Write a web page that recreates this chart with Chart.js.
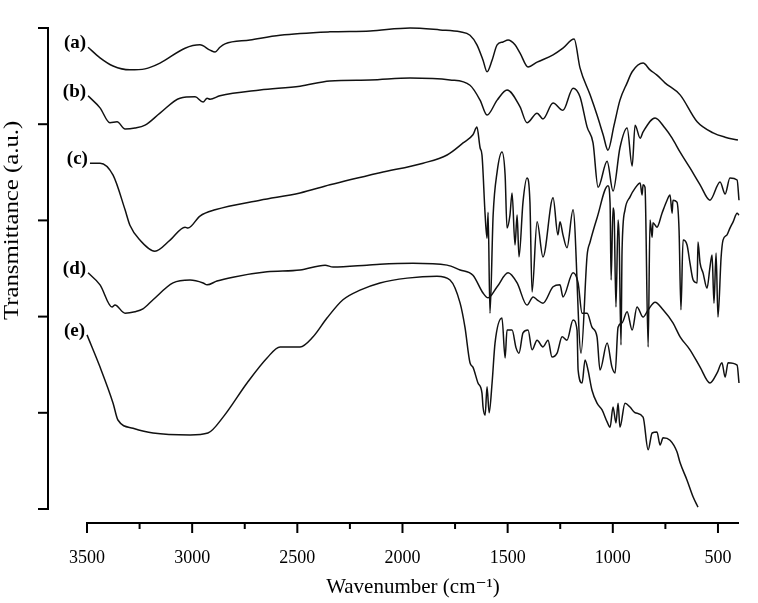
<!DOCTYPE html>
<html>
<head>
<meta charset="utf-8">
<script src="https://cdn.jsdelivr.net/npm/chart.js@4.4.1/dist/chart.umd.min.js"></script>
<style>
  html, body { margin: 0; padding: 0; background: #fff; }
  #wrap { width: 758px; height: 603px; position: relative; }
</style>
</head>
<body>
<div id="wrap"><canvas id="c" width="758" height="603"></canvas></div>
<script>
// ---- data (wavenumber cm^-1, transmittance a.u.) ----
const seriesLabels = ['(a)', '(b)', '(c)', '(d)', '(e)'];
const xTickValues = [3500, 3000, 2500, 2000, 1500, 1000, 500];
const xMinorTickValues = [3250, 2750, 2250, 1750, 1250, 750];
const yTickValues = [0, 20, 40, 60, 80, 100];
const yTitle = 'Transmittance (a.u.)';
const xTitle = 'Wavenumber (cm\u207B\u00B9)';

const seriesA = [[3495,96.0],[3438,93.8],[3376,92.1],[3296,91.3],[3224,91.5],[3153,92.7],[3034,95.8],[2963,96.5],[2915,95.4],[2891,95.0],[2868,96.0],[2844,96.7],[2725,97.5],[2582,98.5],[2345,99.2],[2154,99.4],[1964,100.0],[1821,99.6],[1726,99.2],[1679,98.5],[1646,96.5],[1617,93.3],[1598,90.9],[1574,93.3],[1550,96.5],[1522,97.1],[1498,97.5],[1465,96.5],[1441,94.8],[1403,91.9],[1360,92.9],[1284,94.4],[1237,95.8],[1184,97.7],[1156,91.7],[1108,86.1],[1075,81.9],[1046,77.8],[1023,74.6],[994,79.8],[966,85.0],[932,88.6],[908,90.9],[856,92.7],[823,91.3],[790,90.2],[752,88.6],[680,86.1],[599,80.5],[523,78.2],[466,77.3],[405,76.7]];

const seriesB = [[3495,85.9],[3438,83.4],[3391,80.3],[3357,80.5],[3319,79.0],[3272,79.2],[3224,79.8],[3153,82.3],[3058,85.4],[2986,85.7],[2948,84.6],[2929,85.4],[2915,85.2],[2868,85.9],[2677,87.1],[2487,87.9],[2345,89.0],[2154,89.2],[1964,89.6],[1774,89.2],[1679,88.1],[1631,85.0],[1598,81.9],[1550,85.0],[1503,87.1],[1441,83.6],[1408,80.3],[1360,82.3],[1332,81.1],[1284,84.4],[1237,82.9],[1189,87.5],[1156,85.7],[1122,79.4],[1094,76.1],[1070,66.9],[1027,72.3],[999,66.1],[966,75.1],[932,79.2],[908,71.3],[894,79.8],[870,77.1],[856,78.4],[799,81.3],[752,79.2],[718,77.1],[680,74.2],[633,70.9],[585,67.4],[538,64.2],[490,68.0],[466,65.5],[443,68.8],[409,68.4],[400,64.2]];

const seriesC = [[3486,71.9],[3438,71.9],[3376,69.4],[3319,62.2],[3296,59.0],[3248,55.9],[3177,53.6],[3105,55.9],[3034,58.6],[3020,58.4],[2963,60.9],[2891,62.2],[2677,64.2],[2487,65.7],[2345,67.4],[2107,69.9],[1902,71.9],[1788,73.6],[1712,76.1],[1665,77.8],[1646,79.4],[1631,75.1],[1622,73.6],[1607,61.1],[1598,56.3],[1593,61.7],[1584,40.7],[1569,61.1],[1550,70.1],[1527,74.2],[1512,69.4],[1503,58.4],[1489,61.1],[1479,65.7],[1465,54.9],[1455,61.1],[1446,52.4],[1427,63.8],[1408,68.8],[1394,63.8],[1384,45.1],[1360,59.7],[1332,52.4],[1284,64.7],[1261,57.0],[1251,59.7],[1237,57.0],[1218,54.3],[1189,62.2],[1151,32.4],[1122,52.8],[1108,55.5],[1075,60.5],[1023,67.2],[1013,63.6],[1008,47.6],[999,62.6],[994,61.5],[985,42.0],[975,60.1],[970,56.5],[961,34.1],[956,53.8],[942,62.2],[918,64.9],[894,66.7],[870,67.8],[861,65.3],[856,67.4],[847,66.9],[832,33.7],[823,60.1],[813,56.5],[809,59.5],[790,58.6],[766,61.5],[742,64.2],[728,65.3],[718,61.5],[714,64.2],[695,63.8],[685,58.0],[676,41.4],[666,55.9],[647,54.9],[633,51.1],[618,47.6],[599,47.0],[595,55.5],[585,51.1],[571,49.1],[552,45.9],[538,50.3],[528,52.8],[519,42.8],[509,53.2],[500,39.9],[485,52.4],[476,55.9],[457,57.0],[443,58.4],[428,59.7],[409,61.5],[400,61.1]];

const seriesD = [[3495,49.1],[3438,46.6],[3381,42.0],[3367,42.4],[3319,40.7],[3272,41.0],[3234,41.6],[3186,43.5],[3091,47.0],[3010,47.6],[2948,47.0],[2929,46.6],[2882,47.4],[2806,48.2],[2644,49.3],[2487,49.7],[2368,50.7],[2330,50.3],[2169,50.7],[2107,50.9],[1950,51.1],[1788,50.7],[1726,49.7],[1665,48.6],[1617,44.9],[1593,43.9],[1550,46.2],[1498,49.1],[1455,47.0],[1408,42.4],[1379,44.1],[1360,43.5],[1332,42.8],[1284,46.2],[1251,46.6],[1237,44.1],[1189,49.1],[1165,47.0],[1146,40.7],[1122,40.7],[1099,37.8],[1075,35.8],[1061,28.9],[1027,34.5],[1004,29.5],[989,28.3],[975,37.8],[956,38.7],[932,41.0],[908,37.2],[885,42.0],[856,39.9],[832,41.4],[799,43.0],[761,41.4],[714,38.7],[680,35.8],[633,33.1],[585,29.5],[538,26.2],[504,28.3],[481,30.4],[466,27.4],[452,30.4],[409,29.9],[400,26.2]];

const seriesE = [[3500,36.2],[3438,29.5],[3376,22.0],[3353,18.5],[3281,16.8],[3186,15.8],[3010,15.4],[2925,15.8],[2853,19.1],[2739,26.2],[2644,31.4],[2582,33.7],[2487,33.7],[2425,35.8],[2359,39.7],[2283,43.5],[2202,45.5],[2107,47.0],[1978,48.0],[1836,48.4],[1774,47.6],[1726,42.8],[1703,37.8],[1679,30.4],[1665,29.5],[1641,26.2],[1622,24.1],[1617,21.2],[1607,19.5],[1598,25.4],[1588,20.0],[1574,26.2],[1560,34.5],[1527,39.7],[1512,31.4],[1503,37.2],[1479,37.2],[1460,33.5],[1446,32.4],[1427,36.6],[1403,37.2],[1384,33.1],[1360,35.1],[1332,33.7],[1308,35.1],[1289,31.6],[1265,32.4],[1241,35.8],[1218,35.1],[1189,39.3],[1170,37.2],[1165,28.9],[1146,26.2],[1132,31.0],[1118,28.9],[1099,24.7],[1075,22.0],[1051,20.6],[1027,18.1],[1013,17.0],[999,21.2],[985,17.9],[975,22.0],[966,17.0],[942,22.0],[918,21.2],[894,20.0],[856,19.1],[832,12.3],[813,15.8],[790,16.0],[775,13.3],[761,14.8],[728,14.3],[695,11.9],[680,9.6],[647,6.0],[618,2.5],[595,0.4]];

const allSeries = [seriesA, seriesB, seriesC, seriesD, seriesE];

const SERIF = '"Liberation Serif", "Times New Roman", "DejaVu Serif", serif';

const axesPlugin = {
  id: 'axesPlugin',
  afterDraw(chart) {
    const ctx = chart.ctx;
    const xs = chart.scales.x, ys = chart.scales.y;
    const area = chart.chartArea;
    ctx.save();
    ctx.strokeStyle = '#000';
    ctx.lineCap = 'butt';
    // y axis (offset to the left)
    const yAxisX = area.left - 39;
    ctx.lineWidth = 2;
    ctx.beginPath();
    ctx.moveTo(yAxisX, ys.getPixelForValue(yTickValues[0]) + 1);
    ctx.lineTo(yAxisX, ys.getPixelForValue(yTickValues[yTickValues.length - 1]) - 1);
    ctx.stroke();
    yTickValues.forEach(v => {
      const py = ys.getPixelForValue(v);
      ctx.beginPath();
      ctx.moveTo(yAxisX - 10, py);
      ctx.lineTo(yAxisX, py);
      ctx.stroke();
    });
    // x axis
    const axY = area.bottom;
    ctx.beginPath();
    ctx.moveTo(xs.getPixelForValue(xTickValues[0]) - 1, axY);
    ctx.lineTo(area.right, axY);
    ctx.stroke();
    xTickValues.forEach(v => {
      const px = xs.getPixelForValue(v);
      ctx.beginPath();
      ctx.moveTo(px, axY);
      ctx.lineTo(px, axY + 10);
      ctx.stroke();
    });
    xMinorTickValues.forEach(v => {
      const px = xs.getPixelForValue(v);
      ctx.beginPath();
      ctx.moveTo(px, axY);
      ctx.lineTo(px, axY + 6);
      ctx.stroke();
    });
    // y axis title (rotated, slightly stretched like the original)
    ctx.fillStyle = '#000';
    ctx.save();
    ctx.translate(12, ys.getPixelForValue(60));
    ctx.rotate(-Math.PI / 2);
    ctx.scale(1.18, 1);
    ctx.font = '21px ' + SERIF;
    ctx.textAlign = 'center';
    ctx.textBaseline = 'middle';
    ctx.fillText(yTitle, 0, 0);
    ctx.restore();
    // curve labels at the start of each curve
    ctx.font = 'bold 19px ' + SERIF;
    ctx.textAlign = 'right';
    ctx.textBaseline = 'middle';
    chart.data.datasets.forEach((ds, i) => {
      const pt = chart.getDatasetMeta(i).data[0];
      ctx.fillText(ds.label, pt.x - 2, pt.y - 4);
    });
    ctx.restore();
  }
};

const datasets = allSeries.map((s, i) => ({
  label: seriesLabels[i],
  data: s.map(p => ({ x: p[0], y: p[1] })),
  borderColor: '#111',
  borderWidth: 1.5,
  pointRadius: 0,
  fill: false,
  cubicInterpolationMode: 'monotone',
  clip: false
}));

new Chart(document.getElementById('c'), {
  type: 'line',
  data: { datasets },
  options: {
    responsive: false,
    animation: false,
    events: [],
    layout: { padding: { top: 28, right: 19, bottom: 0, left: 0 } },
    plugins: { legend: { display: false }, tooltip: { enabled: false } },
    scales: {
      x: {
        type: 'linear',
        reverse: true,
        min: 400,
        max: 3500,
        border: { display: false },
        grid: { display: false, drawTicks: false },
        afterBuildTicks: (scale) => { scale.ticks = xTickValues.map(v => ({ value: v })); },
        afterFit: (scale) => { scale.height = 80; },
        ticks: {
          color: '#000',
          font: { family: SERIF, size: 18 },
          padding: 24,
          maxRotation: 0,
          autoSkip: false,
          callback: (v) => String(v)
        },
        title: {
          display: true,
          text: xTitle,
          color: '#000',
          font: { family: SERIF, size: 21 },
          padding: { top: 0, bottom: 3 }
        }
      },
      y: {
        type: 'linear',
        min: -2.91,
        max: 100,
        border: { display: false },
        grid: { display: false, drawTicks: false },
        afterFit: (scale) => { scale.width = 87; },
        ticks: { display: false },
        title: { display: false }
      }
    }
  },
  plugins: [axesPlugin]
});
</script>
</body>
</html>
